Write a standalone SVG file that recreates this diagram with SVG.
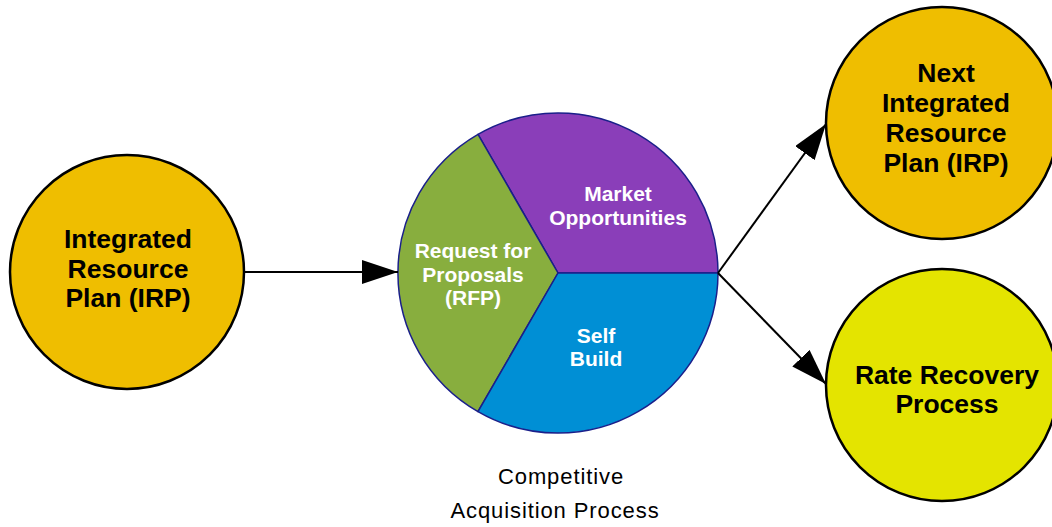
<svg xmlns="http://www.w3.org/2000/svg" width="1052" height="527" viewBox="0 0 1052 527">
<defs>
<marker id="arr" viewBox="0 0 36 24" refX="36" refY="12" markerWidth="36" markerHeight="24" markerUnits="userSpaceOnUse" orient="auto">
<path d="M0,0 L36,12 L0,24 Z" fill="#000"/>
</marker>
</defs>
<style>
.node{stroke:#000;stroke-width:2.5}
.lbl{font-family:"Liberation Sans",Arial,sans-serif;font-weight:bold;font-size:26.5px;text-anchor:middle;fill:#000}
.seg{stroke:#1a1f8a;stroke-width:1.5}
.slbl{font-family:"Liberation Sans",Arial,sans-serif;font-weight:bold;font-size:21px;text-anchor:middle;fill:#fff}
.cap{font-family:"Liberation Sans",Arial,sans-serif;font-size:22px;letter-spacing:0.9px;text-anchor:middle;fill:#000}
.conn{stroke:#000;stroke-width:2;fill:none}
</style>
<rect width="1052" height="527" fill="#fff"/>
<g id="irp">
<circle class="node" cx="127" cy="272" r="117" fill="#efbe00"/>
<text class="lbl" x="128" y="248">Integrated</text>
<text class="lbl" x="128" y="278">Resource</text>
<text class="lbl" x="128" y="307">Plan (IRP)</text>
</g>
<g id="competitive">
<path class="seg" d="M558,273 L718,273 A160,160 0 0 0 478,134.4 Z" fill="#8a3eb9"/>
<path class="seg" d="M558,273 L478,134.4 A160,160 0 0 0 478,411.6 Z" fill="#88ae3e"/>
<path class="seg" d="M558,273 L478,411.6 A160,160 0 0 0 718,273 Z" fill="#008fd5"/>
<text class="slbl" x="618" y="201">Market</text>
<text class="slbl" x="618" y="225">Opportunities</text>
<text class="slbl" x="473" y="258">Request for</text>
<text class="slbl" x="473" y="282">Proposals</text>
<text class="slbl" x="473" y="305">(RFP)</text>
<text class="slbl" x="596" y="343">Self</text>
<text class="slbl" x="596" y="366">Build</text>
<text class="cap" x="561" y="484">Competitive</text>
<text class="cap" x="555" y="518">Acquisition Process</text>
</g>
<g id="next-irp">
<circle class="node" cx="942" cy="123" r="116" fill="#efbe00"/>
<text class="lbl" x="946" y="82">Next</text>
<text class="lbl" x="946" y="112">Integrated</text>
<text class="lbl" x="946" y="142">Resource</text>
<text class="lbl" x="946" y="172">Plan (IRP)</text>
</g>
<g id="rate-recovery">
<circle class="node" cx="942" cy="385" r="116" fill="#e4e400"/>
<text class="lbl" x="947" y="384">Rate Recovery</text>
<text class="lbl" x="947" y="413">Process</text>
</g>
<g id="connectors">
<line class="conn" x1="244" y1="272" x2="398" y2="272" marker-end="url(#arr)"/>
<line class="conn" x1="718" y1="273" x2="826" y2="124" marker-end="url(#arr)"/>
<line class="conn" x1="718" y1="273" x2="826" y2="384" marker-end="url(#arr)"/>
</g>
</svg>
